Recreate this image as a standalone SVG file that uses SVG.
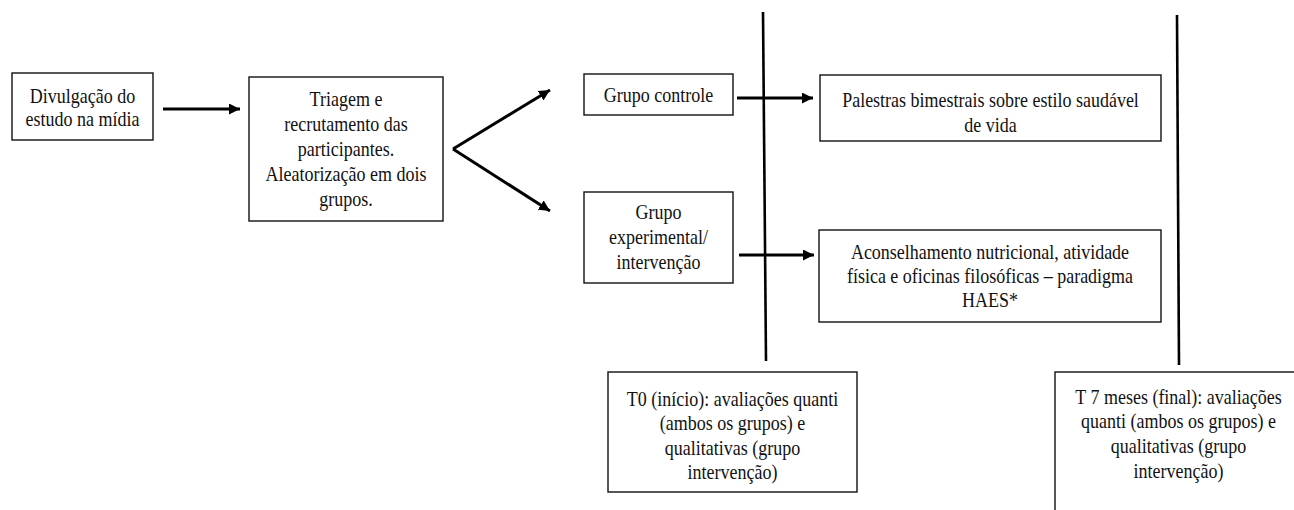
<svg xmlns="http://www.w3.org/2000/svg" width="1294" height="510" viewBox="0 0 1294 510">
  <style>
    .box { fill: #ffffff; stroke: #111111; stroke-width: 1.4; }
    .t { font-size: 18px; fill: #111111; text-anchor: middle; }
    .conn { stroke: #000000; stroke-width: 3; fill: none; }
    .tl { stroke: #000000; stroke-width: 2.6; fill: none; }
  </style>
  <defs>
    <marker id="ah" viewBox="0 0 11 11" refX="11" refY="5.5" markerWidth="11" markerHeight="11" markerUnits="userSpaceOnUse" orient="auto">
      <path d="M0,0 L11,5.5 L0,11 z" fill="#000000"/>
    </marker>
  </defs>
  <rect width="1294" height="510" fill="#ffffff"/>

  <g id="connectors">
    <line class="conn" x1="163" y1="109" x2="240" y2="109" marker-end="url(#ah)"/>
    <line class="conn" x1="453" y1="149" x2="550" y2="90" marker-end="url(#ah)"/>
    <line class="conn" x1="453" y1="149" x2="550" y2="211" marker-end="url(#ah)"/>
    <line class="conn" x1="737" y1="98" x2="813" y2="98" marker-end="url(#ah)"/>
    <line class="conn" x1="739" y1="255" x2="814" y2="255" marker-end="url(#ah)"/>
    <line class="tl" x1="763" y1="12" x2="766" y2="361"/>
    <line class="tl" x1="1177" y1="15" x2="1179" y2="365"/>
  </g>

  <g id="divulgacao">
    <rect class="box" x="12" y="73" width="141" height="67"/>
    <text class="t" font-family="Liberation Serif, serif" transform="translate(82.5,103) scale(1,1.22)"><tspan x="0" y="0">Divulgação do</tspan><tspan x="0" dy="18.6">estudo na mídia</tspan></text>
  </g>

  <g id="triagem">
    <rect class="box" x="249" y="77" width="194" height="144"/>
    <text class="t" font-family="Liberation Serif, serif" transform="translate(346,106) scale(1,1.22)"><tspan x="0" y="0">Triagem e</tspan><tspan x="0" dy="20.5">recrutamento das</tspan><tspan x="0" dy="20.5">participantes.</tspan><tspan x="0" dy="20.5">Aleatorização em dois</tspan><tspan x="0" dy="20.5">grupos.</tspan></text>
  </g>

  <g id="grupo-controle">
    <rect class="box" x="584" y="74" width="149" height="41"/>
    <text class="t" font-family="Liberation Serif, serif" transform="translate(658.5,102) scale(1,1.22)"><tspan x="0" y="0">Grupo controle</tspan></text>
  </g>

  <g id="grupo-experimental">
    <rect class="box" x="584" y="192" width="149" height="91"/>
    <text class="t" font-family="Liberation Serif, serif" transform="translate(658.5,219) scale(1,1.22)"><tspan x="0" y="0">Grupo</tspan><tspan x="0" dy="20.5">experimental/</tspan><tspan x="0" dy="20.5">intervenção</tspan></text>
  </g>

  <g id="palestras">
    <rect class="box" x="820" y="75" width="341" height="66"/>
    <text class="t" font-family="Liberation Serif, serif" transform="translate(990.5,107) scale(1,1.22)"><tspan x="0" y="0">Palestras bimestrais sobre estilo saudável</tspan><tspan x="0" dy="20.5">de vida</tspan></text>
  </g>

  <g id="aconselhamento">
    <rect class="box" x="819" y="230" width="342" height="92"/>
    <text class="t" font-family="Liberation Serif, serif" transform="translate(990,258.5) scale(1,1.22)"><tspan x="0" y="0">Aconselhamento nutricional, atividade</tspan><tspan x="0" dy="20.3">física e oficinas filosóficas – paradigma</tspan><tspan x="0" dy="19.8">HAES*</tspan></text>
  </g>

  <g id="t0">
    <rect class="box" x="608" y="372" width="249" height="120"/>
    <text class="t" font-family="Liberation Serif, serif" transform="translate(732.5,406) scale(1,1.22)"><tspan x="0" y="0">T0 (início): avaliações quanti</tspan><tspan x="0" dy="19.9">(ambos os grupos) e</tspan><tspan x="0" dy="19.9">qualitativas (grupo</tspan><tspan x="0" dy="19.9">intervenção)</tspan></text>
  </g>

  <g id="t7">
    <rect class="box" x="1055" y="372" width="246" height="150"/>
    <text class="t" font-family="Liberation Serif, serif" transform="translate(1178.5,403.5) scale(1,1.22)"><tspan x="0" y="0">T 7 meses (final): avaliações</tspan><tspan x="0" dy="20.3">quanti (ambos os grupos) e</tspan><tspan x="0" dy="20.3">qualitativas (grupo</tspan><tspan x="0" dy="20.3">intervenção)</tspan></text>
  </g>
</svg>
